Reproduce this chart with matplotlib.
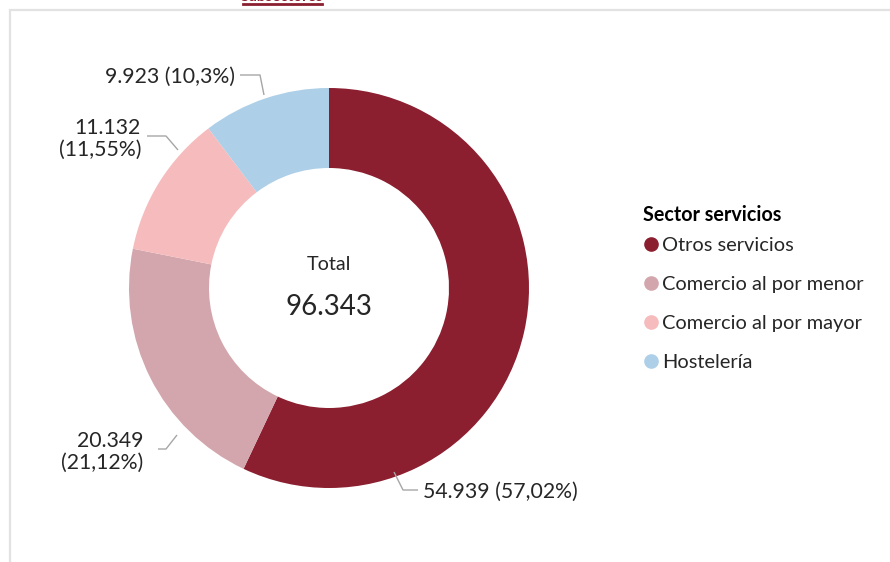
import matplotlib
matplotlib.use("Agg")
import matplotlib.pyplot as plt
from matplotlib.lines import Line2D
from matplotlib.patches import Rectangle

categories = ["Otros servicios", "Comercio al por menor", "Comercio al por mayor", "Hostelería"]
values = [54939, 20349, 11132, 9923]
value_labels = ["54.939 (57,02%)", "20.349\n(21,12%)", "11.132\n(11,55%)", "9.923 (10,3%)"]
total_label = "96.343"
colors = ["#8B1E2F", "#D2A6AC", "#F6BBBD", "#ADCFE7"]

W, H = 890, 562
FONT = "Lato"
fig = plt.figure(figsize=(W / 100, H / 100), dpi=100)
ax = fig.add_axes([0, 0, 1, 1])

cx, cy, R = 329, H - 288, 200
ax.pie(values, colors=colors, startangle=90, counterclock=False, radius=R,
       center=(cx, cy), wedgeprops=dict(width=R * 0.4, linewidth=0))
ax.set_xlim(0, W)
ax.set_ylim(0, H)
ax.set_aspect("equal")
ax.axis("off")

def Y(y):
    return H - y

# leader lines and labels (pixel positions from top-left)
label_style = [
    dict(path=[(394, 472), (403, 490), (418, 490)], text=(423, 492), ha="left"),
    dict(path=[(177, 435), (166, 449), (158, 449)], text=(143, 452), ha="right"),
    dict(path=[(178, 150), (166, 136), (147, 136)], text=(141, 139), ha="right"),
    dict(path=[(264, 95), (260, 75), (240, 75)], text=(235, 77), ha="right"),
]
for lab, st in zip(value_labels, label_style):
    xs = [p[0] for p in st["path"]]
    ys = [Y(p[1]) for p in st["path"]]
    ax.plot(xs, ys, color="#a6a6a6", lw=1.0, solid_capstyle="butt")
    ax.text(st["text"][0], Y(st["text"][1]), lab, ha=st["ha"], va="center",
            fontsize=15.3, family=FONT, color="#262626", linespacing=1.08)

ax.text(cx, Y(264), "Total", ha="center", va="center", fontsize=14.2,
        family=FONT, color="#262626")
ax.text(cx, Y(307), total_label, ha="center", va="center", fontsize=20,
        family=FONT, color="#262626")

# legend
handles = [Line2D([], [], marker="o", linestyle="none", markersize=9.5,
                  markerfacecolor=c, markeredgecolor=c) for c in colors]
leg = ax.legend(handles, categories, title="Sector servicios", loc="upper left",
                bbox_to_anchor=(633 / W, 1 - 195 / H), frameon=False,
                prop=dict(family=FONT, size=14.4), handletextpad=0.15,
                handlelength=0.8, labelspacing=1.1, borderpad=0,
                title_fontproperties=dict(family=FONT, size=14.2, weight="bold"))
leg._legend_box.align = "left"
leg._legend_box.sep = 9
for t in leg.get_texts():
    t.set_color("#262626")

# frame border
fig.patches.append(Rectangle((10 / W, -0.1), 1.2, (H - 10) / H + 0.1,
                             transform=fig.transFigure, fill=False,
                             edgecolor="#e2e2e2", lw=1.6))
# cut-off title
fig.text(282 / W, 1 - 0.6 / H, "Subsectores", ha="center", va="baseline",
         fontsize=11, family=FONT, weight="bold", color="#8B1E2F")
fig.add_artist(Line2D([243 / W, 322 / W], [1 - 4 / H, 1 - 4 / H],
                      transform=fig.transFigure, color="#8B1E2F", lw=2))

fig.savefig("out.png", dpi=100, facecolor="white")
